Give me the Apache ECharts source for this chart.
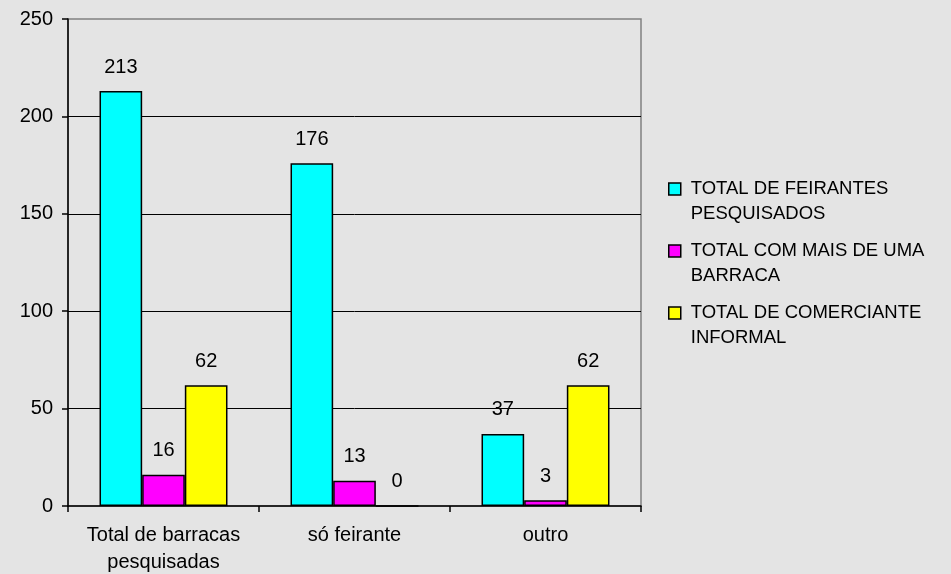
<!DOCTYPE html>
<html>
<head>
<meta charset="utf-8">
<script src="https://cdn.jsdelivr.net/npm/echarts@6/dist/echarts.min.js"></script>
<style>
html,body{margin:0;padding:0;background:#e4e4e4;}
#chart{width:951px;height:574px;}
</style>
</head>
<body>
<div id="chart"></div>
<script>
const categories = ['Total de barracas\npesquisadas', 'só feirante', 'outro'];
const seriesNames = ['TOTAL DE FEIRANTES\nPESQUISADOS', 'TOTAL COM MAIS DE UMA\nBARRACA', 'TOTAL DE COMERCIANTE\nINFORMAL'];
const feirantes = [213, 176, 37];
const maisDeUma = [16, 13, 3];
const comerciante = [62, 0, 62];
const yTicks = [0, 50, 100, 150, 200, 250];
const colors = ['#00FFFF', '#FF00FF', '#FFFF00'];

const font = 'Liberation Sans, Arial, sans-serif';
const chart = echarts.init(document.getElementById('chart'), null, {renderer: 'canvas'});

function makeSeries(name, data, color) {
  return {
    name: name,
    type: 'bar',
    data: data,
    barGap: '0%',
    barCategoryGap: '33%',
    itemStyle: {color: color, borderColor: '#000', borderWidth: 1.5},
    label: {show: true, position: 'top', distance: 14, color: '#000', fontSize: 20, fontFamily: font},
    emphasis: {disabled: true}
  };
}

chart.setOption({
  backgroundColor: '#e4e4e4',
  animation: false,
  grid: {left: 68, right: 310, top: 19, bottom: 68, show: true, borderColor: '#808080', borderWidth: 1.5, containLabel: false, outerBoundsMode: 'none'},
  legend: {
    orient: 'vertical',
    left: 668,
    top: 151.5,
    padding: 0,
    itemGap: -13,
    itemWidth: 12,
    itemHeight: 12,
    icon: 'rect',
    formatter: name => '\n' + name,
    data: seriesNames.map((n, i) => ({name: n, itemStyle: {color: colors[i], borderColor: '#000', borderWidth: 1.5}})),
    textStyle: {fontSize: 18.5, fontFamily: font, color: '#000', lineHeight: 25, padding: [0, 0, 0, 5]}
  },
  xAxis: {
    type: 'category',
    data: categories,
    axisLine: {lineStyle: {color: '#000', width: 1.5}},
    axisTick: {show: true, interval: 0, length: 6, lineStyle: {color: '#000', width: 1.5}},
    axisLabel: {interval: 0, hideOverlap: false, fontSize: 20, fontFamily: font, color: '#000', lineHeight: 27, margin: 16}
  },
  yAxis: {
    type: 'value',
    min: yTicks[0],
    max: yTicks[yTicks.length - 1],
    interval: yTicks[1] - yTicks[0],
    axisLine: {show: true, lineStyle: {color: '#000', width: 1.5}},
    axisTick: {show: true, length: 6, lineStyle: {color: '#000', width: 1.5}},
    axisLabel: {fontSize: 20, fontFamily: font, color: '#000', margin: 15},
    splitLine: {show: true, showMinLine: false, showMaxLine: false, lineStyle: {color: '#000', width: 1}}
  },
  series: [
    makeSeries(seriesNames[0], feirantes, colors[0]),
    makeSeries(seriesNames[1], maisDeUma, colors[1]),
    makeSeries(seriesNames[2], comerciante, colors[2])
  ]
});
</script>
</body>
</html>
